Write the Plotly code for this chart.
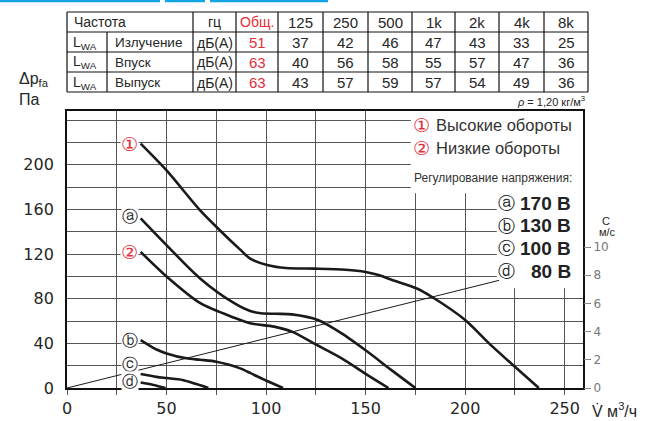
import plotly.graph_objects as go

# ---------------- data ----------------
freq_header = ["Частота", "гц", "Общ.", "125", "250", "500", "1k", "2k", "4k", "8k"]
row_names = ["Излучение", "Впуск", "Выпуск"]
row_unit = "дБ(A)"
row_total = [51, 63, 63]
row_radiation = [37, 42, 46, 47, 43, 33, 25]
row_inlet = [40, 56, 58, 55, 57, 47, 36]
row_outlet = [43, 57, 59, 57, 54, 49, 36]

curve_1_x = [37, 50, 67, 77, 87, 92, 101, 110, 125, 140, 150, 157, 163, 176, 183, 200, 212, 225, 237]
curve_1_y = [219, 195, 159, 141, 124, 116, 110, 107.5, 107, 106, 104, 101, 97, 89, 82, 61, 40, 19, 0]
curve_a_x = [37, 50, 67, 84, 92, 97.5, 105, 113, 126, 138, 151, 163, 175]
curve_a_y = [152, 128, 98, 76, 69, 67, 66.5, 66, 61, 49, 32.5, 16, 0]
curve_2_x = [37, 50, 67, 84, 92, 104, 113, 124, 138, 151, 161.5]
curve_2_y = [122, 100, 76, 63, 58, 55, 50.5, 40, 26.6, 11.6, 0]
curve_b_x = [37, 45, 50, 60, 67, 75, 81, 87, 92, 97.5, 108.5]
curve_b_y = [43, 34.5, 31, 26.6, 25.3, 23.6, 21, 17.6, 13.5, 8.7, 0]
curve_c_x = [37, 45, 50, 58, 65, 71]
curve_c_y = [12.5, 10, 8.9, 7.2, 3.5, 0]
curve_d_x = [37, 43, 49.5]
curve_d_y = [5, 3, 0]

velocity_x = [0, 217]
velocity_c = [0, 7.64]

x_ticks = [0, 50, 100, 150, 200, 250]
y_ticks = [0, 40, 80, 120, 160, 200]
c_ticks = [0, 2, 4, 6, 8, 10]

legend_speeds = [("①", "Высокие обороты"), ("②", "Низкие обороты")]
legend_volt_title = "Регулирование напряжения:"
legend_volts = [("ⓐ", "170 В"), ("ⓑ", "130 В"), ("ⓒ", "100 В"), ("ⓓ", "80 В")]

# ---------------- geometry helpers (screen pixels) ----------------
W, H = 647, 421
L, R, T, B = 67, 583, 111, 388
X_MAX, Y_MAX, C_MAX = 259.2, 248.3, 19.66


def px(x):
    return (x - L) / (R - L)


def py(y):
    return (B - y) / (B - T)


RED = "#e52d3a"
TXT = "#262626"
FONT = "Liberation Sans, Arial, sans-serif"
SYM = "DejaVu Sans, sans-serif"

fig = go.Figure()

curves = [(curve_1_x, curve_1_y), (curve_a_x, curve_a_y), (curve_2_x, curve_2_y),
          (curve_b_x, curve_b_y), (curve_c_x, curve_c_y), (curve_d_x, curve_d_y)]
for cx, cy in curves:
    fig.add_trace(go.Scatter(x=cx, y=cy, mode="lines",
                             line=dict(color="#1a1a1a", width=2.6, shape="spline", smoothing=0.8),
                             showlegend=False, hoverinfo="skip"))

fig.add_trace(go.Scatter(x=velocity_x, y=velocity_c, yaxis="y2", mode="lines",
                         line=dict(color="#1a1a1a", width=1), showlegend=False, hoverinfo="skip"))

shapes = []
annotations = []

# white boxes over grid for legend
shapes.append(dict(type="rect", xref="x", yref="y", x0=172.7, x1=X_MAX, y0=174.6, y1=Y_MAX,
                   fillcolor="white", line=dict(width=0), layer="between"))
shapes.append(dict(type="rect", xref="x", yref="y", x0=215.9, x1=X_MAX, y0=89.5, y1=174.7,
                   fillcolor="white", line=dict(width=0), layer="between"))

# blue bars at the very top
for x0, x1 in [(0, 160), (165, 205), (210, 328)]:
    shapes.append(dict(type="rect", xref="paper", yref="paper", x0=px(x0), x1=px(x1),
                       y0=py(2.2), y1=py(-1), fillcolor="#12a6e6", line=dict(width=0)))

# ---------------- table ----------------
col_edges = [67, 107, 193, 236, 278, 323, 368, 412, 455, 499, 544, 588]
row_edges = [12, 32, 52, 72, 92]
tline = dict(color="#111", width=1.2)
for yv in row_edges:
    shapes.append(dict(type="line", xref="paper", yref="paper", x0=px(col_edges[0]), x1=px(col_edges[-1]),
                       y0=py(yv), y1=py(yv), line=tline))
for i, xv in enumerate(col_edges):
    ytop = row_edges[1] if i == 1 else row_edges[0]
    shapes.append(dict(type="line", xref="paper", yref="paper", x0=px(xv), x1=px(xv),
                       y0=py(ytop), y1=py(row_edges[-1]), line=tline))


def cell_text(text, col, row, color=TXT, align="center", pad=5, size=15):
    yc = (row_edges[row] + row_edges[row + 1]) / 2 + 0.5
    if align == "center":
        xc = (col_edges[col] + col_edges[col + 1]) / 2
        annotations.append(dict(x=px(xc), y=py(yc), xref="paper", yref="paper", text=text,
                                showarrow=False, xanchor="center", yanchor="middle",
                                font=dict(family=FONT, size=size, color=color)))
    else:
        annotations.append(dict(x=px(col_edges[col] + pad), y=py(yc), xref="paper", yref="paper", text=text,
                                showarrow=False, xanchor="left", yanchor="middle",
                                font=dict(family=FONT, size=size, color=color)))


cell_text(freq_header[0], 0, 0, align="left", pad=5, size=14)
cell_text(freq_header[1], 2, 0, size=14)
cell_text(freq_header[2], 3, 0, color=RED, size=14)
for j, h in enumerate(freq_header[3:]):
    cell_text(h, 4 + j, 0)

for r, (name, tot, vals) in enumerate(zip(row_names, row_total, [row_radiation, row_inlet, row_outlet])):
    cell_text("L<sub>WA</sub>", 0, r + 1, align="left", pad=4, size=14)
    cell_text(name, 1, r + 1, align="left", pad=6, size=13.5)
    cell_text(row_unit, 2, r + 1, size=14)
    cell_text(str(tot), 3, r + 1, color=RED)
    for j, v in enumerate(vals):
        cell_text(str(v), 4 + j, r + 1)

# rho note
annotations.append(dict(x=px(587), y=py(101), xref="paper", yref="paper",
                        text="<i>ρ</i> = 1,20 кг/м<sup>3</sup>", showarrow=False,
                        xanchor="right", yanchor="middle", font=dict(family=FONT, size=11, color=TXT)))

# axis titles
annotations.append(dict(x=px(17), y=py(80), xref="paper", yref="paper", text="Δp<sub>fa</sub>",
                        showarrow=False, xanchor="left", yanchor="middle",
                        font=dict(family=FONT, size=16, color=TXT)))
annotations.append(dict(x=px(17), y=py(99), xref="paper", yref="paper", text="Па",
                        showarrow=False, xanchor="left", yanchor="middle",
                        font=dict(family=FONT, size=16, color=TXT)))
annotations.append(dict(x=px(590), y=py(410), xref="paper", yref="paper", text="V̇ м<sup>3</sup>/ч",
                        showarrow=False, xanchor="left", yanchor="middle",
                        font=dict(family=FONT, size=16, color=TXT)))
annotations.append(dict(x=px(600), y=py(221), xref="paper", yref="paper", text="С",
                        showarrow=False, xanchor="left", yanchor="middle",
                        font=dict(family=FONT, size=11, color=TXT)))
annotations.append(dict(x=px(597), y=py(232), xref="paper", yref="paper", text="м/с",
                        showarrow=False, xanchor="left", yanchor="middle",
                        font=dict(family=FONT, size=11, color=TXT)))

# legend: speeds
for k, (sym, lab) in enumerate(legend_speeds):
    yy = 125 + k * 23
    annotations.append(dict(x=px(421), y=py(yy), xref="paper", yref="paper", text=sym,
                            showarrow=False, xanchor="center", yanchor="middle",
                            font=dict(family=SYM, size=19, color=RED)))
    annotations.append(dict(x=px(434), y=py(yy), xref="paper", yref="paper", text=lab,
                            showarrow=False, xanchor="left", yanchor="middle",
                            font=dict(family=FONT, size=16.5, color="#333")))
annotations.append(dict(x=px(412), y=py(178), xref="paper", yref="paper", text=legend_volt_title,
                        showarrow=False, xanchor="left", yanchor="middle",
                        font=dict(family=FONT, size=12, color="#333")))
for k, (sym, lab) in enumerate(legend_volts):
    yy = 203 + k * 22.7
    annotations.append(dict(x=px(506), y=py(yy), xref="paper", yref="paper", text=sym,
                            showarrow=False, xanchor="center", yanchor="middle",
                            font=dict(family=SYM, size=17, color="#222")))
    annotations.append(dict(x=px(573), y=py(yy), xref="paper", yref="paper", text="<b>" + lab + "</b>",
                            showarrow=False, xanchor="right", yanchor="middle",
                            font=dict(family=FONT, size=19, color="#222")))

# curve labels (data coordinates)
curve_labels = [("①", 219, RED, 19), ("ⓐ", 154, "#222", 16), ("②", 122, RED, 19),
                ("ⓑ", 43, "#222", 16), ("ⓒ", 21.5, "#222", 16), ("ⓓ", 5.5, "#222", 16)]
for sym, yv, col, sz in curve_labels:
    annotations.append(dict(x=31.6, y=yv, xref="x", yref="y", text=sym, showarrow=False,
                            xanchor="center", yanchor="middle", borderpad=0,
                            font=dict(family=SYM, size=sz, color=col), bgcolor="white"))

grid_col = "#555555"
x_all = list(range(0, 251, 25))
y_all = list(range(0, 241, 20))

fig.update_layout(
    width=W, height=H,
    margin=dict(l=L, r=W - R, t=T, b=H - B, autoexpand=False),
    paper_bgcolor="white", plot_bgcolor="white",
    shapes=shapes, annotations=annotations,
    xaxis=dict(range=[0, X_MAX], tickmode="array", tickvals=x_all, automargin=False,
               ticktext=[str(v) if v in x_ticks else "" for v in x_all],
               showgrid=True, gridcolor=grid_col, gridwidth=1.2, zeroline=False,
               showline=True, linecolor="#111", linewidth=2, mirror=True,
               ticks="outside", ticklen=5, tickcolor=grid_col, tickwidth=1.2,
               tickfont=dict(family="DejaVu Sans", size=16, color=TXT)),
    yaxis=dict(range=[0, Y_MAX], tickmode="array", tickvals=y_all, automargin=False,
               ticktext=[str(v) if v in y_ticks else "" for v in y_all],
               showgrid=True, gridcolor=grid_col, gridwidth=1.2, zeroline=False,
               showline=True, linecolor="#111", linewidth=1.8, mirror=True,
               ticks="", ticklabelstandoff=8,
               tickfont=dict(family="DejaVu Sans", size=16, color=TXT)),
    yaxis2=dict(range=[0, C_MAX], overlaying="y", side="right", tickmode="array", automargin=False,
                tickvals=c_ticks, ticktext=[str(v) for v in c_ticks],
                showgrid=False, zeroline=False, showline=False,
                ticks="outside", ticklen=7, tickcolor="#888", tickwidth=1,
                tickfont=dict(family="DejaVu Sans", size=12, color="#777")),
)

fig.write_html("out.html", config={"displayModeBar": False},
               post_script="document.body.style.margin='0px';")
